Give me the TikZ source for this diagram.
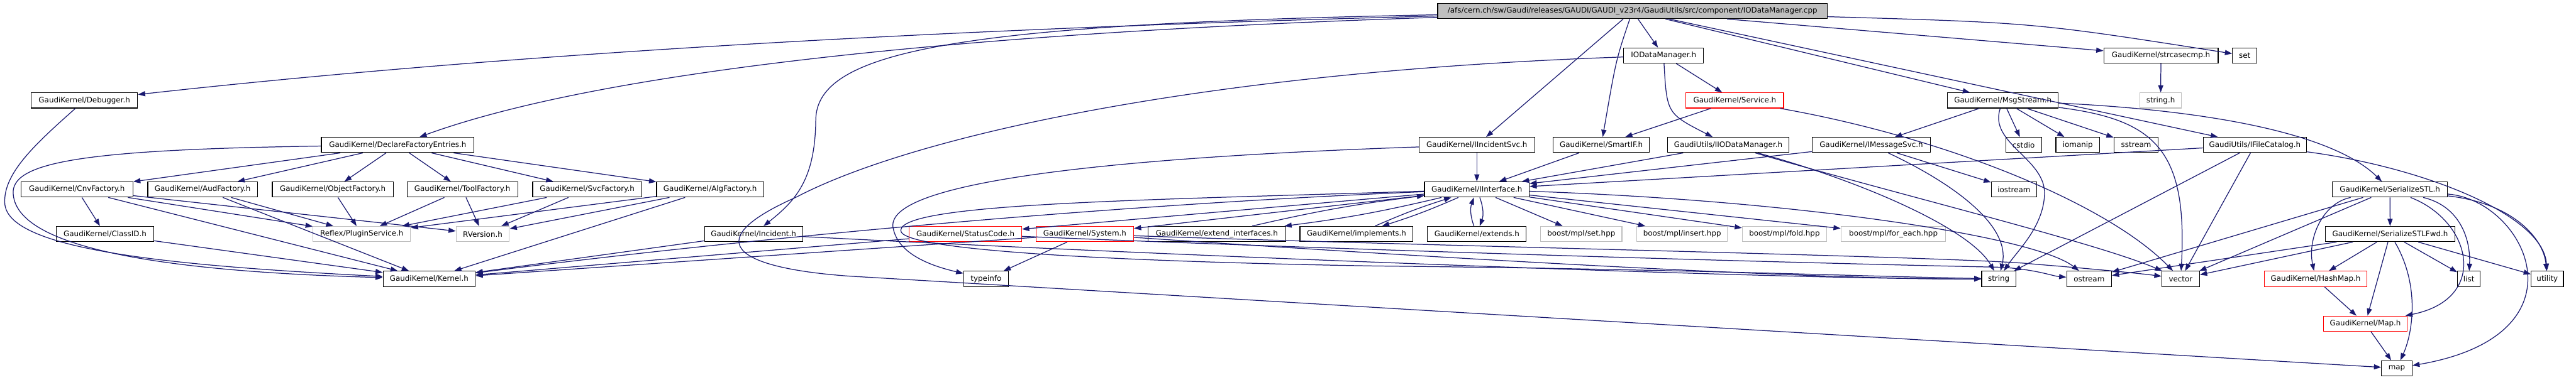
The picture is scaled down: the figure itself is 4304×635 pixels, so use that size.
\documentclass[tikz,border=0pt]{standalone}
\usepackage{fontspec}
\setmainfont{DejaVu Sans}
\usetikzlibrary{arrows.meta}
\definecolor{edgeblue}{HTML}{191970}
\definecolor{extgrey}{HTML}{BFBFBF}
\tikzset{
  nd/.style={draw=black, line width=1.2pt, fill=white, minimum height=25.5pt, inner sep=0pt, text=black, font=\fontsize{12.5}{15}\selectfont},
  ext/.style={nd, draw=extgrey},
  trunc/.style={nd, draw=red},
  root/.style={nd, fill=extgrey},
  dep/.style={draw=edgeblue, line width=1.3pt, -{Triangle[length=12pt,width=8.5pt]}}
}
\begin{document}
\begin{tikzpicture}[x=1pt,y=-1pt]
\useasboundingbox (0,0) rectangle (4304,635);
% rank 0
\node[root, minimum width=651pt] (main) at (2727.5,18.5) {/afs/cern.ch/sw/Gaudi/releases/GAUDI/GAUDI\_v23r4/GaudiUtils/src/component/IODataManager.cpp};
% rank 1
\node[nd, minimum width=133pt] (IODM) at (2779.5,93) {IODataManager.h};
\node[nd, minimum width=191pt] (strcasecmp) at (3610.5,93) {GaudiKernel/strcasecmp.h};
\node[nd, minimum width=41pt] (nset) at (3750.5,93) {set};
% rank 2
\node[nd, minimum width=178pt] (Debugger) at (141,168) {GaudiKernel/Debugger.h};
\node[trunc, minimum width=163pt] (Service) at (2898.5,168) {GaudiKernel/Service.h};
\node[nd, minimum width=185pt] (MsgStream) at (3346.5,168) {GaudiKernel/MsgStream.h};
\node[ext, minimum width=70pt] (stringh) at (3610,168) {string.h};
% rank 3
\node[nd, minimum width=255pt] (DFE) at (664.5,242.5) {GaudiKernel/DeclareFactoryEntries.h};
\node[nd, minimum width=193pt] (IIncSvc) at (2467.5,242.5) {GaudiKernel/IIncidentSvc.h};
\node[nd, minimum width=161pt] (SmartIF) at (2675.5,242.5) {GaudiKernel/SmartIF.h};
\node[nd, minimum width=203pt] (IIODM) at (2887.5,242.5) {GaudiUtils/IIODataManager.h};
\node[nd, minimum width=197pt] (IMsgSvc) at (3126.5,242.5) {GaudiKernel/IMessageSvc.h};
\node[nd, minimum width=60pt] (cstdio) at (3381,242.5) {cstdio};
\node[nd, minimum width=73pt] (iomanip) at (3471.5,242.5) {iomanip};
\node[nd, minimum width=74pt] (sstream) at (3569,242.5) {sstream};
\node[nd, minimum width=173pt] (IFileCat) at (3767.5,242.5) {GaudiUtils/IFileCatalog.h};
% rank 4
\node[nd, minimum width=187pt] (Cnv) at (128.5,317) {GaudiKernel/CnvFactory.h};
\node[nd, minimum width=183pt] (Aud) at (338.5,317) {GaudiKernel/AudFactory.h};
\node[nd, minimum width=202pt] (Obj) at (556,317) {GaudiKernel/ObjectFactory.h};
\node[nd, minimum width=185pt] (Tool) at (772.5,317) {GaudiKernel/ToolFactory.h};
\node[nd, minimum width=182pt] (Svc) at (981,317) {GaudiKernel/SvcFactory.h};
\node[nd, minimum width=179pt] (Alg) at (1186.5,317) {GaudiKernel/AlgFactory.h};
\node[nd, minimum width=175pt] (IInterface) at (2467.5,317) {GaudiKernel/IInterface.h};
\node[nd, minimum width=76pt] (iostream) at (3365,317) {iostream};
\node[nd, minimum width=192pt] (SerSTL) at (3993,317) {GaudiKernel/SerializeSTL.h};
% rank 5
\node[nd, minimum width=163pt] (ClassID) at (175.5,391.5) {GaudiKernel/ClassID.h};
\node[ext, minimum width=163pt] (PluginSvc) at (604.5,391.5) {Reflex/PluginService.h};
\node[ext, minimum width=89pt] (RVersion) at (806.5,391.5) {RVersion.h};
\node[nd, minimum width=164pt] (Incident) at (1259,391.5) {GaudiKernel/Incident.h};
\node[trunc, minimum width=188pt] (StatusCode) at (1613,391.5) {GaudiKernel/StatusCode.h};
\node[trunc, minimum width=163pt] (System) at (1812.5,391.5) {GaudiKernel/System.h};
\node[nd, minimum width=230pt] (extint) at (2033,391.5) {GaudiKernel/extend\_interfaces.h};
\node[nd, minimum width=189pt] (implements) at (2266.5,391.5) {GaudiKernel/implements.h};
\node[nd, minimum width=165pt] (extends) at (2467.5,391.5) {GaudiKernel/extends.h};
\node[ext, minimum width=136pt] (sethpp) at (2642,391.5) {boost/mpl/set.hpp};
\node[ext, minimum width=151pt] (inserthpp) at (2810.5,391.5) {boost/mpl/insert.hpp};
\node[ext, minimum width=141pt] (foldhpp) at (2981.5,391.5) {boost/mpl/fold.hpp};
\node[ext, minimum width=175pt] (foreach) at (3163.5,391.5) {boost/mpl/for\_each.hpp};
\node[nd, minimum width=217pt] (SerFwd) at (3993.5,391.5) {GaudiKernel/SerializeSTLFwd.h};
% rank 6
\node[nd, minimum width=154pt] (Kernel) at (717,466.5) {GaudiKernel/Kernel.h};
\node[nd, minimum width=75pt] (typeinfo) at (1647.5,466.5) {typeinfo};
\node[nd, minimum width=57pt] (nstring) at (3339.5,466.5) {string};
\node[nd, minimum width=75pt] (ostream) at (3490.5,466.5) {ostream};
\node[nd, minimum width=63pt] (vector) at (3643.5,466.5) {vector};
\node[trunc, minimum width=172pt] (HashMap) at (3869,466.5) {GaudiKernel/HashMap.h};
\node[nd, minimum width=38pt] (nlist) at (4125,466.5) {list};
\node[nd, minimum width=54pt] (utility) at (4256,466.5) {utility};
% rank 7, 8
\node[trunc, minimum width=140pt] (Map) at (3952,541.5) {GaudiKernel/Map.h};
\node[nd, minimum width=51pt] (nmap) at (4004.5,616) {map};

% ---- edges from the main file
\draw[dep] (main) .. controls (1500,50) and (800,95) .. (Debugger);
\draw[dep] (main) .. controls (1600,55) and (1000,120) .. (DFE);
\draw[dep] (main) .. controls (1600,40) and (1365,85) .. (1363,200) .. controls (1362,300) and (1330,335) .. (Incident);
\draw[dep] (main) -- (IIncSvc);
\draw[dep] (main) .. controls (2700,100) .. (SmartIF);
\draw[dep] (main) -- (IODM);
\draw[dep] (main) -- (MsgStream);
\draw[dep] (main) -- (IFileCat);
\draw[dep] (main) -- (strcasecmp);
\draw[dep] (main) .. controls (3400,38) .. (nset);

% ---- factories
\draw[dep] (Debugger) .. controls (60,240) and (5,290) .. (8,340) .. controls (12,420) and (300,445) .. (Kernel);
\draw[dep] (DFE) .. controls (150,250) and (25,270) .. (22,320) .. controls (20,420) and (300,455) .. (Kernel);
\draw[dep] (DFE) -- (Cnv);
\draw[dep] (DFE) -- (Aud);
\draw[dep] (DFE) -- (Obj);
\draw[dep] (DFE) -- (Tool);
\draw[dep] (DFE) -- (Svc);
\draw[dep] (DFE) -- (Alg);
\draw[dep] (Cnv) -- (ClassID);
\draw[dep] (Cnv) -- (PluginSvc);
\draw[dep] (Cnv) -- (RVersion);
\draw[dep] (Cnv) -- (Kernel);
\draw[dep] (Aud) -- (PluginSvc);
\draw[dep] (Aud) -- (Kernel);
\draw[dep] (Obj) -- (PluginSvc);
\draw[dep] (Tool) -- (PluginSvc);
\draw[dep] (Tool) -- (RVersion);
\draw[dep] (Svc) -- (PluginSvc);
\draw[dep] (Svc) -- (RVersion);
\draw[dep] (Alg) -- (PluginSvc);
\draw[dep] (Alg) -- (RVersion);
\draw[dep] (Alg) -- (Kernel);
\draw[dep] (ClassID) -- (Kernel);
\draw[dep] (Incident) -- (Kernel);
\draw[dep] (Incident) .. controls (2000,430) and (3000,468) .. (nstring);

% ---- services
\draw[dep] (IIncSvc) -- (IInterface);
\draw[dep] (IIncSvc) .. controls (1900,262) and (1480,300) .. (1492,380) .. controls (1500,430) and (1570,448) .. (typeinfo);
\draw[dep] (SmartIF) -- (IInterface);
\draw[dep] (IODM) -- (Service);
\draw[dep] (IODM) .. controls (2785,190) .. (IIODM);
\draw[dep] (IODM) .. controls (2000,120) and (1520,230) .. (1330,330) .. controls (1150,410) and (1250,450) .. (1420,462) -- (nmap);
\draw[dep] (Service) -- (SmartIF);
\draw[dep] (Service) .. controls (3250,230) and (3520,340) .. (vector);
\draw[dep] (IIODM) -- (IInterface);
\draw[dep] (IIODM) .. controls (3100,300) and (3290,380) .. (nstring);
\draw[dep] (IIODM) .. controls (3150,320) and (3500,405) .. (vector);
\draw[dep] (IMsgSvc) -- (IInterface);
\draw[dep] (IMsgSvc) -- (iostream);
\draw[dep] (IMsgSvc) .. controls (3270,310) and (3360,380) .. (nstring);
\draw[dep] (MsgStream) -- (IMsgSvc);
\draw[dep] (MsgStream) -- (cstdio);
\draw[dep] (MsgStream) -- (iomanip);
\draw[dep] (MsgStream) -- (sstream);
\draw[dep] (MsgStream) .. controls (3322,240) and (3418,265) .. (3416,325) .. controls (3414,380) and (3370,420) .. (nstring);
\draw[dep] (MsgStream) .. controls (3600,200) and (3655,250) .. (vector);
\draw[dep] (MsgStream) .. controls (3700,185) and (3900,225) .. (SerSTL);
\draw[dep] (IFileCat) -- (IInterface);
\draw[dep] (IFileCat) -- (nstring);
\draw[dep] (IFileCat) -- (vector);
\draw[dep] (IFileCat) .. controls (4050,280) and (4250,360) .. (utility);
\draw[dep] (strcasecmp) -- (stringh);

% ---- IInterface
\draw[dep] (IInterface) .. controls (1800,345) and (1200,405) .. (Kernel);
\draw[dep] (IInterface) -- (StatusCode);
\draw[dep] (IInterface) -- (System);
\draw[dep] (IInterface) to[bend left=3] (extint);
\draw[dep] (extint) to[bend left=3] (IInterface);
\draw[dep] (IInterface) to[bend left=3] (implements);
\draw[dep] (implements) to[bend left=3] (IInterface);
\draw[dep] (IInterface) to[bend left=20] (extends);
\draw[dep] (extends) to[bend left=20] (IInterface);
\draw[dep] (IInterface) -- (sethpp);
\draw[dep] (IInterface) -- (inserthpp);
\draw[dep] (IInterface) -- (foldhpp);
\draw[dep] (IInterface) -- (foreach);
\draw[dep] (IInterface) .. controls (3000,335) and (3400,395) .. (ostream);
\draw[dep] (IInterface) .. controls (1900,335) and (1510,340) .. (1505,385) .. controls (1500,425) and (2000,440) .. (2300,445) .. controls (2800,450) and (3100,462) .. (nstring);
\draw[dep] (StatusCode) -- (Kernel);
\draw[dep] (StatusCode) .. controls (2300,420) and (3000,440) .. (3340,447) .. controls (3400,450) and (3430,462) .. (ostream);
\draw[dep] (System) -- (Kernel);
\draw[dep] (System) -- (typeinfo);
\draw[dep] (System) .. controls (2300,425) and (3000,468) .. (nstring);
\draw[dep] (System) .. controls (2400,412) and (3300,430) .. (3400,442) .. controls (3500,450) and (3580,458) .. (vector);

% ---- serialization
\draw[dep] (SerSTL) -- (SerFwd);
\draw[dep] (SerSTL) -- (ostream);
\draw[dep] (SerSTL) -- (vector);
\draw[dep] (SerSTL) .. controls (3880,340) and (3855,400) .. (HashMap);
\draw[dep] (SerSTL) .. controls (4110,345) and (4128,400) .. (nlist);
\draw[dep] (SerSTL) .. controls (4130,370) and (4160,500) .. (Map);
\draw[dep] (SerSTL) .. controls (4200,340) and (4250,400) .. (utility);
\draw[dep] (SerSTL) .. controls (4220,335) and (4330,560) .. (nmap);
\draw[dep] (SerFwd) -- (ostream);
\draw[dep] (SerFwd) -- (vector);
\draw[dep] (SerFwd) -- (HashMap);
\draw[dep] (SerFwd) -- (Map);
\draw[dep] (SerFwd) .. controls (4045,480) and (4030,560) .. (nmap);
\draw[dep] (SerFwd) -- (nlist);
\draw[dep] (SerFwd) -- (utility);
\draw[dep] (HashMap) -- (Map);
\draw[dep] (Map) -- (nmap);
\end{tikzpicture}
\end{document}
